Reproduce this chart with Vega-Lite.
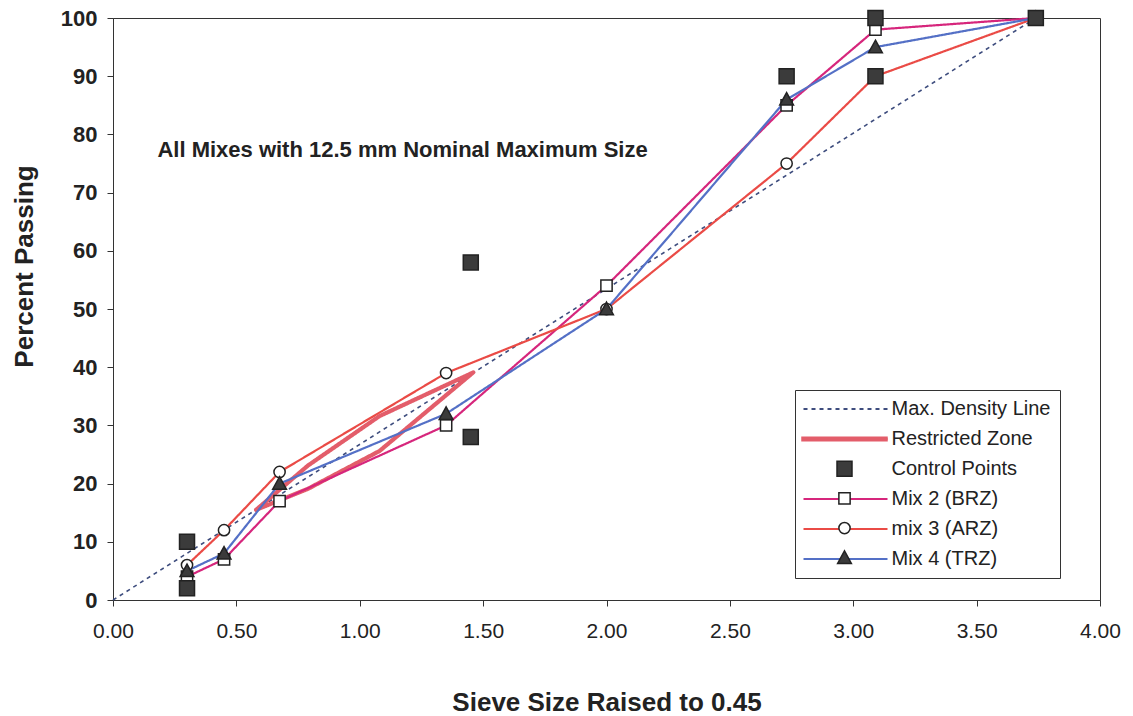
{
  "$schema": "https://vega.github.io/schema/vega-lite/v6.json",
  "width": 987,
  "height": 582,
  "autosize": {"type": "none"},
  "padding": {"left": 113, "top": 18, "right": 33, "bottom": 116},
  "background": "white",
  "config": {
    "view": {"stroke": "#333", "strokeWidth": 1},
    "font": "Liberation Sans"
  },
  "datasets": {
    "main": [
      {"series": "Max. Density Line", "seq": 1, "x": 0, "y": 0},
      {"series": "Max. Density Line", "seq": 2, "x": 3.74, "y": 100},
      {"series": "Restricted Zone", "seq": 1, "x": 0.58, "y": 15.5},
      {"series": "Restricted Zone", "seq": 2, "x": 0.79, "y": 23.1},
      {"series": "Restricted Zone", "seq": 3, "x": 1.08, "y": 31.6},
      {"series": "Restricted Zone", "seq": 4, "x": 1.46, "y": 39.1},
      {"series": "Restricted Zone", "seq": 5, "x": 1.08, "y": 25.6},
      {"series": "Restricted Zone", "seq": 6, "x": 0.79, "y": 19.1},
      {"series": "Restricted Zone", "seq": 7, "x": 0.58, "y": 15.5},
      {"series": "Mix 2 (BRZ)", "seq": 1, "x": 0.30, "y": 4},
      {"series": "Mix 2 (BRZ)", "seq": 2, "x": 0.45, "y": 7},
      {"series": "Mix 2 (BRZ)", "seq": 3, "x": 0.675, "y": 17},
      {"series": "Mix 2 (BRZ)", "seq": 4, "x": 1.35, "y": 30},
      {"series": "Mix 2 (BRZ)", "seq": 5, "x": 2.0, "y": 54},
      {"series": "Mix 2 (BRZ)", "seq": 6, "x": 2.73, "y": 85},
      {"series": "Mix 2 (BRZ)", "seq": 7, "x": 3.09, "y": 98},
      {"series": "Mix 2 (BRZ)", "seq": 8, "x": 3.74, "y": 100},
      {"series": "mix 3 (ARZ)", "seq": 1, "x": 0.30, "y": 6},
      {"series": "mix 3 (ARZ)", "seq": 2, "x": 0.45, "y": 12},
      {"series": "mix 3 (ARZ)", "seq": 3, "x": 0.675, "y": 22},
      {"series": "mix 3 (ARZ)", "seq": 4, "x": 1.35, "y": 39},
      {"series": "mix 3 (ARZ)", "seq": 5, "x": 2.0, "y": 50},
      {"series": "mix 3 (ARZ)", "seq": 6, "x": 2.73, "y": 75},
      {"series": "mix 3 (ARZ)", "seq": 7, "x": 3.09, "y": 90},
      {"series": "mix 3 (ARZ)", "seq": 8, "x": 3.74, "y": 100},
      {"series": "Mix 4 (TRZ)", "seq": 1, "x": 0.30, "y": 5},
      {"series": "Mix 4 (TRZ)", "seq": 2, "x": 0.45, "y": 8},
      {"series": "Mix 4 (TRZ)", "seq": 3, "x": 0.675, "y": 20},
      {"series": "Mix 4 (TRZ)", "seq": 4, "x": 1.35, "y": 32},
      {"series": "Mix 4 (TRZ)", "seq": 5, "x": 2.0, "y": 50},
      {"series": "Mix 4 (TRZ)", "seq": 6, "x": 2.73, "y": 86},
      {"series": "Mix 4 (TRZ)", "seq": 7, "x": 3.09, "y": 95},
      {"series": "Mix 4 (TRZ)", "seq": 8, "x": 3.74, "y": 100},
      {"series": "Control Points", "seq": 1, "x": 0.30, "y": 10},
      {"series": "Control Points", "seq": 2, "x": 0.30, "y": 2},
      {"series": "Control Points", "seq": 3, "x": 1.45, "y": 58},
      {"series": "Control Points", "seq": 4, "x": 1.45, "y": 28},
      {"series": "Control Points", "seq": 5, "x": 2.73, "y": 90},
      {"series": "Control Points", "seq": 6, "x": 3.09, "y": 100},
      {"series": "Control Points", "seq": 7, "x": 3.09, "y": 90},
      {"series": "Control Points", "seq": 8, "x": 3.74, "y": 100}
    ]
  },
  "data": {"name": "main"},
  "encoding": {
    "x": {
      "field": "x", "type": "quantitative",
      "scale": {"domain": [0, 4], "nice": false, "zero": false},
      "axis": {
        "orient": "bottom",
        "title": "Sieve Size Raised to 0.45",
        "values": [0, 0.5, 1, 1.5, 2, 2.5, 3, 3.5, 4],
        "format": ".2f",
        "grid": false,
        "domainColor": "#333", "tickColor": "#333", "tickSize": 6,
        "labelFont": "Liberation Sans", "labelFontSize": 21, "labelColor": "#222",
        "labelPadding": 14, "labelFlush": false, "labelOverlap": false,
        "titleFont": "Liberation Sans", "titleFontSize": 26, "titleFontWeight": "bold", "titleColor": "#222",
        "titleBaseline": "alphabetic", "titleY": 110
      }
    },
    "y": {
      "field": "y", "type": "quantitative",
      "scale": {"domain": [0, 100], "nice": false},
      "axis": {
        "orient": "left",
        "title": "Percent Passing",
        "values": [0, 10, 20, 30, 40, 50, 60, 70, 80, 90, 100],
        "grid": false,
        "domainColor": "#333", "tickColor": "#333", "tickSize": 6,
        "labelFont": "Liberation Sans", "labelFontSize": 22, "labelFontWeight": "bold", "labelColor": "#222",
        "labelPadding": 10, "labelFlush": false, "labelOverlap": false,
        "titleFont": "Liberation Sans", "titleFontSize": 26, "titleFontWeight": "bold", "titleColor": "#222",
        "titleBaseline": "middle", "titleX": -89, "titleY": 248
      }
    }
  },
  "layer": [
    {
      "transform": [{"filter": "datum.series === 'Max. Density Line'"}],
      "mark": {"type": "line", "strokeWidth": 1.6},
      "encoding": {
        "order": {"field": "seq"},
        "color": {
          "field": "series", "type": "nominal",
          "scale": {
            "domain": ["Max. Density Line", "Restricted Zone", "Control Points", "Mix 2 (BRZ)", "mix 3 (ARZ)", "Mix 4 (TRZ)"],
            "range": ["#3e4d7e", "#e35d6a", "#3b3b3b", "#d6267c", "#ea4b46", "#5470c6"]
          },
          "legend": {
            "orient": "none", "legendX": 682, "legendY": 372, "title": null,
            "symbolType": "M-6,0H6", "symbolSize": 196, "symbolStrokeWidth": 2, "symbolOffset": 31.5,
            "labelOffset": 36, "labelFont": "Liberation Sans", "labelFontSize": 20, "labelColor": "#222", "labelLimit": 400,
            "rowPadding": 10, "padding": 9, "strokeColor": "#333", "fillColor": "white"
          }
        },
        "strokeDash": {
          "field": "series", "type": "nominal",
          "scale": {
            "domain": ["Max. Density Line", "Restricted Zone", "Control Points", "Mix 2 (BRZ)", "mix 3 (ARZ)", "Mix 4 (TRZ)"],
            "range": [[4, 4], [1, 0], [0, 1000], [1, 0], [1, 0], [1, 0]]
          }
        }
      }
    },
    {
      "transform": [{"filter": "datum.series === 'Restricted Zone'"}],
      "mark": {"type": "line", "strokeWidth": 4.2, "strokeCap": "round", "strokeJoin": "round"},
      "encoding": {
        "order": {"field": "seq"},
        "color": {"field": "series", "type": "nominal"},
        "strokeDash": {"field": "series", "type": "nominal"}
      }
    },
    {
      "transform": [{"filter": {"field": "series", "oneOf": ["Mix 2 (BRZ)", "mix 3 (ARZ)", "Mix 4 (TRZ)"]}}],
      "mark": {"type": "line", "strokeWidth": 2.2},
      "encoding": {
        "order": {"field": "seq"},
        "color": {"field": "series", "type": "nominal"},
        "strokeDash": {"field": "series", "type": "nominal"}
      }
    },
    {
      "transform": [{"filter": {"field": "series", "oneOf": ["Mix 2 (BRZ)", "mix 3 (ARZ)", "Mix 4 (TRZ)", "Control Points"]}}],
      "mark": {"type": "point", "size": 625, "strokeWidth": 1.5, "opacity": 1},
      "encoding": {
        "shape": {
          "field": "series", "type": "nominal",
          "scale": {
            "domain": ["Restricted Zone", "Control Points", "Mix 2 (BRZ)", "mix 3 (ARZ)", "Mix 4 (TRZ)"],
            "range": [
              "M-3.4,-0.14H3.4V0.14H-3.4Z",
              "M-0.6,-0.6H0.6V0.6H-0.6Z",
              "M-0.45,-0.45H0.45V0.45H-0.45Z",
              "M0.45,0A0.45,0.45,0,1,1,-0.45,0A0.45,0.45,0,1,1,0.45,0Z",
              "M0,-0.55L0.55,0.45H-0.55Z"
            ]
          },
          "legend": {
            "orient": "none", "legendX": 682, "legendY": 398.5, "title": null,
            "symbolSize": 625, "symbolStrokeWidth": 1.5, "symbolOffset": 27,
            "labelOffset": 36, "labelFont": "Liberation Sans", "labelFontSize": 20, "labelOpacity": 0, "labelLimit": 400,
            "labelExpr": "' '",
            "rowPadding": 5.7, "padding": 9
          }
        },
        "fill": {
          "field": "series", "type": "nominal",
          "scale": {
            "domain": ["Restricted Zone", "Control Points", "Mix 2 (BRZ)", "mix 3 (ARZ)", "Mix 4 (TRZ)"],
            "range": ["#e35d6a", "#3b3b3b", "white", "white", "#3b3b3b"]
          },
          "legend": null
        },
        "stroke": {
          "field": "series", "type": "nominal",
          "scale": {
            "domain": ["Restricted Zone", "Control Points", "Mix 2 (BRZ)", "mix 3 (ARZ)", "Mix 4 (TRZ)"],
            "range": ["#e35d6a", "#222222", "#222222", "#222222", "#222222"]
          },
          "legend": null
        }
      }
    },
    {
      "data": {"values": [{"label": "All Mixes with 12.5 mm Nominal Maximum Size", "x": 0.18, "y": 77.3}]},
      "mark": {"type": "text", "align": "left", "baseline": "middle", "font": "Liberation Sans", "fontSize": 22, "fontWeight": "bold", "fill": "#222"},
      "encoding": {
        "text": {"field": "label", "type": "nominal"}
      }
    }
  ]
}
